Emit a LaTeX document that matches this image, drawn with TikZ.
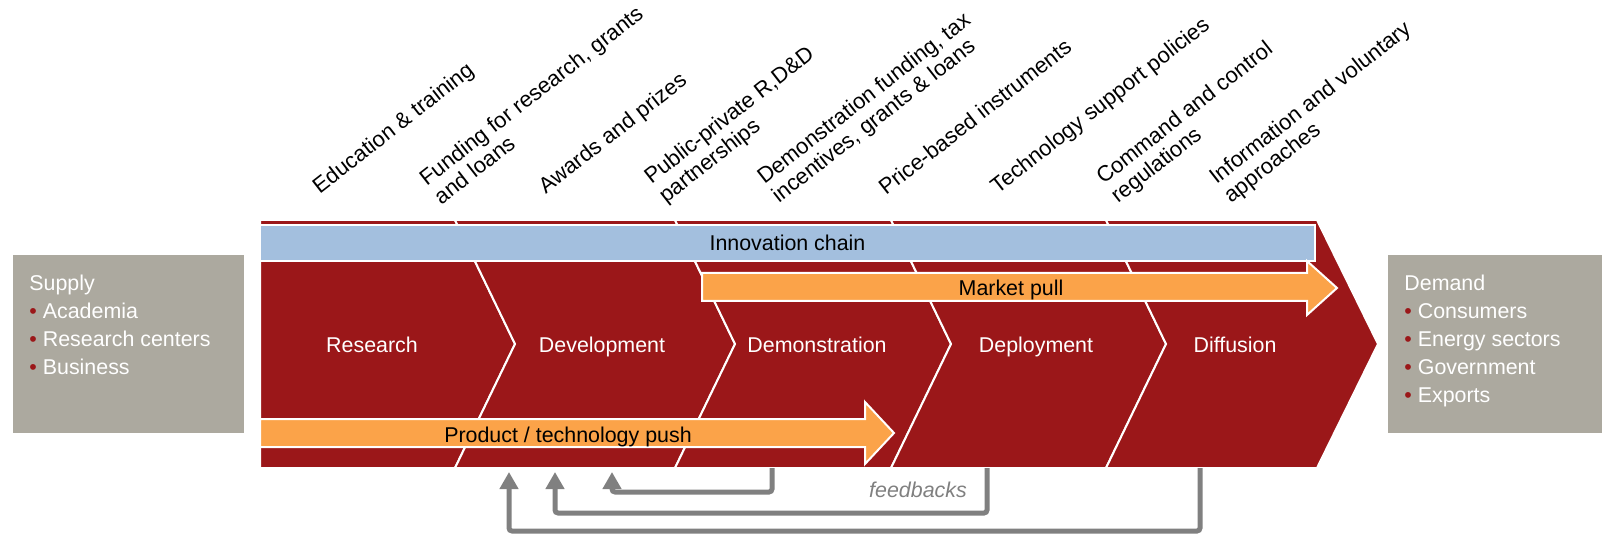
\documentclass[tikz,border=0pt]{standalone}
\usepackage{fontspec}
\setmainfont{Liberation Sans}
\usepackage{xcolor}
\usepackage{tikz}
\usetikzlibrary{arrows.meta,calc,positioning}
\definecolor{chainred}{HTML}{9B1719}
\definecolor{chainblue}{HTML}{A3BFDE}
\definecolor{pushorange}{HTML}{FBA349}
\definecolor{sidegray}{HTML}{ACA99F}
\definecolor{loopgray}{HTML}{808080}
\newcommand{\redbullet}{\textcolor{chainred}{\textbullet}\ }
\tikzset{
stage chevron/.style={fill=chainred, draw=white, line width=1pt, line join=miter},
stage label/.style={text=white, anchor=base, inner sep=0pt, font=\fontsize{10.7}{13}\selectfont},
chain bar/.style={
  fill=chainblue,
  draw=white,
  line width=1pt,
  minimum width=527.5pt,
  minimum height=18pt,
  inner sep=0pt,
  font=\fontsize{10.7}{13}\selectfont
},
pull arrow/.style={fill=pushorange, draw=white, line width=1pt, line join=miter},
bar label/.style={text=black, anchor=base, inner sep=0pt, font=\fontsize{10.7}{13}\selectfont},
policy label/.style={rotate=38, anchor=west, align=left, inner sep=0pt, font=\fontsize{11}{11.8}\selectfont},
side box/.style={fill=sidegray, anchor=north west, inner sep=0pt, minimum height=89pt},
side text/.style={text=white, anchor=north west, align=left, inner sep=0pt, font=\fontsize{10.7}{14}\selectfont},
feedback/.style={
  draw=loopgray,
  line width=2.5pt,
  rounded corners=1.5pt,
  -{Triangle[length=8.5pt,width=9pt]}
},
feedback label/.style={text=loopgray, font=\fontsize{10.7}{13}\selectfont\itshape}
}

\begin{document}
\begin{tikzpicture}[x=0.5pt,y=-0.5pt]
\useasboundingbox (0,0) rectangle (1602,534);
% stages of the chain
\filldraw[stage chevron] (260,220) -- (455,220) -- (515,344) -- (455,468) -- (260,468) -- cycle;
\filldraw[stage chevron] (455,220) -- (675,220) -- (735,344) -- (675,468) -- (455,468) -- (515,344) -- cycle;
\filldraw[stage chevron] (675,220) -- (891,220) -- (951,344) -- (891,468) -- (675,468) -- (735,344) -- cycle;
\filldraw[stage chevron] (891,220) -- (1106,220) -- (1166,344) -- (1106,468) -- (891,468) -- (951,344) -- cycle;
\filldraw[stage chevron] (1106,220) -- (1317,220) -- (1378,344) -- (1317,468) -- (1106,468) -- (1166,344) -- cycle;
\node[stage label] (research) at (372,353) {Research};
\node[stage label] (development) at (602,353) {Development};
\node[stage label] (demonstration) at (817,353) {Demonstration};
\node[stage label] (deployment) at (1036,353) {Deployment};
\node[stage label] (diffusion) at (1235,353) {Diffusion};
% bars and arrows
\node[chain bar] (chain) at (787.5,243) {Innovation chain};
\filldraw[pull arrow] (702,273) -- (1307,273) -- (1307,261) -- (1337,288) -- (1307,315) -- (1307,301) -- (702,301) -- cycle;
\node[bar label] (pull) at (1011,296) {Market pull};
\filldraw[pull arrow] (260,419) -- (865,419) -- (865,402) -- (894,433) -- (865,464) -- (865,447) -- (260,447) -- cycle;
\node[bar label] (push) at (568,443) {Product / technology push};
% feedbacks
\coordinate (demo foot) at (772,468);
\coordinate (deploy foot) at (987,468);
\coordinate (diff foot) at (1200,468);
\coordinate (back1) at (612,472);
\coordinate (back2) at (555,472);
\coordinate (back3) at (509,472);
\draw[feedback] (demo foot) -- ++(0,24) -| (back1);
\draw[feedback] (deploy foot) -- ++(0,45) -| (back2);
\draw[feedback] (diff foot) -- ++(0,63) -| (back3);
\node[feedback label] (fblabel) at (918,490) {feedbacks};
% supply and demand
\node[side box, minimum width=115.5pt] (supply) at (13,255) {};
\node[side text] (supplytext) at (29,275) {Supply\\\redbullet Academia\\\redbullet Research centers\\\redbullet Business};
\node[side box, minimum width=107pt] (demand) at (1388,255) {};
\node[side text] (demandtext) at (1404,275) {Demand\\\redbullet Consumers\\\redbullet Energy sectors\\\redbullet Government\\\redbullet Exports};
% policy instruments
\node[policy label] (educ) at (316,190) {Education \& training};
\node[policy label] (fund) at (429,190) {Funding for research, grants\\and loans};
\node[policy label] (award) at (542,190) {Awards and prizes};
\node[policy label] (ppp) at (655,190) {Public-private R,D\&D\\partnerships};
\node[policy label] (demofund) at (768,190) {Demonstration funding, tax\\incentives, grants \& loans};
\node[policy label] (price) at (881,190) {Price-based instruments};
\node[policy label] (techsup) at (994,190) {Technology support policies};
\node[policy label] (command) at (1107,190) {Command and control\\regulations};
\node[policy label] (info) at (1220,190) {Information and voluntary\\approaches};
\end{tikzpicture}
\end{document}
